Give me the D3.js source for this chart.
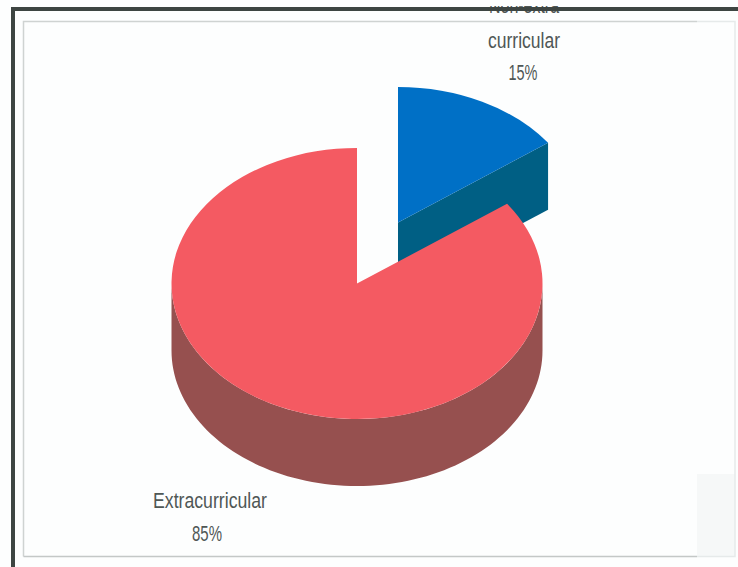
<!DOCTYPE html>
<html>
<head>
<meta charset="utf-8">
<style>html,body{margin:0;padding:0;background:#fff;overflow:hidden}svg{display:block}</style>
<script src="https://cdn.jsdelivr.net/npm/d3@7/dist/d3.min.js"></script>
</head>
<body>
<svg id="c" width="738" height="567"></svg>
<script>
const categories = ["Non-extra curricular", "Extracurricular"];
const values = [15, 85];
const labelLines = [["Non-extra", "curricular", "15%"], ["Extracurricular", "85%"]];
const topColors = ["#0070c6", "#f45a62"];
const sideColors = ["#005f84", "#96504f"];

const W = 738, H = 567, rx = 185.5, ry = 135.5, depth = 67;
const svg = d3.select("#c");
svg.append("rect").attr("width", W).attr("height", H).attr("fill", "#fdfefe");
svg.append("defs").append("clipPath").attr("id", "topClip")
  .append("rect").attr("x", 470).attr("y", 6).attr("width", 110).attr("height", 9);

// frame
svg.append("rect").attr("x", 697).attr("y", 474).attr("width", 38).attr("height", 82).attr("fill", "#f6f8f8");
svg.append("path").attr("d", "M23.5,556.5V21.5H697").attr("fill", "none").attr("stroke", "#cfd3d2").attr("stroke-width", 1.5);
svg.append("path").attr("d", "M23.5,556.5H697").attr("fill", "none").attr("stroke", "#c4c8c7").attr("stroke-width", 1.5);
svg.append("path").attr("d", "M697,21.5H735V556.5H697").attr("fill", "none").attr("stroke", "#e6eaea").attr("stroke-width", 1.5);

const pie = d3.pie().sort(null).value(d => d);
const arcs = pie(values);
const centers = [[398, 222.5], [357, 283.5]];
const arcGen = d3.arc().innerRadius(0).outerRadius(rx);
const px = (c, a) => c[0] + rx * Math.sin(a);
const py = (c, a) => c[1] - ry * Math.cos(a);

function wallPath(c, a0, a1) {
  const n = 90, top = [], bot = [];
  for (let i = 0; i <= n; i++) {
    const a = a0 + (a1 - a0) * i / n;
    top.push([px(c, a), py(c, a)]);
    bot.push([px(c, a), py(c, a) + depth]);
  }
  return d3.line()(top.concat(bot.reverse())) + "Z";
}

// blue slice: cut face, then top
const b = arcs[0];
svg.append("path")
  .attr("d", d3.line()([
    centers[0],
    [px(centers[0], b.endAngle), py(centers[0], b.endAngle)],
    [px(centers[0], b.endAngle), py(centers[0], b.endAngle) + depth],
    [centers[0][0], centers[0][1] + depth]
  ]) + "Z")
  .attr("fill", sideColors[0]);
svg.append("path")
  .attr("transform", `translate(${centers[0]}) scale(1,${ry / rx})`)
  .attr("d", arcGen(b)).attr("fill", topColors[0]);

// red slice: outer wall (front half only), then top
const r = arcs[1];
svg.append("path").attr("d", wallPath(centers[1], Math.PI / 2, Math.PI * 1.5)).attr("fill", sideColors[1]);
svg.append("path")
  .attr("transform", `translate(${centers[1]}) scale(1,${ry / rx})`)
  .attr("d", arcGen(r)).attr("fill", topColors[1]);

// labels: condensed by fitting to the measured width
const font = "'Liberation Sans','Open Sans',sans-serif";
const label = (x, y, t, w) => svg.append("text").attr("x", x).attr("y", y).attr("text-anchor", "middle")
  .attr("font-family", font).attr("font-size", 22).attr("textLength", w).attr("lengthAdjust", "spacingAndGlyphs")
  .attr("fill", "#4f5755").text(t);
label(524, 13, labelLines[0][0], 70).attr("clip-path", "url(#topClip)");
label(524, 48, labelLines[0][1], 72);
label(523, 80, labelLines[0][2], 29);
label(210, 508, labelLines[1][0], 114);
label(207, 541, labelLines[1][1], 30);

// outer frame sits over the clipped first label line
svg.append("path").attr("d", "M13,567V9H738").attr("fill", "none").attr("stroke", "#3d4542").attr("stroke-width", 4);
</script>
</body>
</html>
